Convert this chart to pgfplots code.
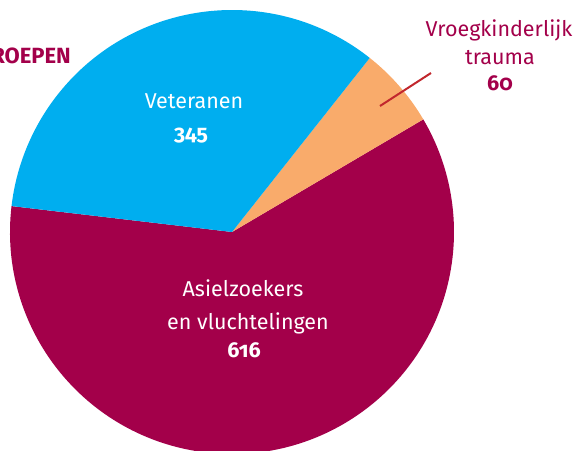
\documentclass[border=0pt]{standalone}
\usepackage{fontspec}
\setmainfont{Fira Sans}[Numbers=OldStyle]
\usepackage{pgfplots}
\usepackage{pgfplotstable}
\pgfplotsset{compat=1.18}
\definecolor{asiel}{HTML}{A3004A}
\definecolor{vet}{HTML}{00AEEF}
\definecolor{vroeg}{HTML}{F9AB6B}
\definecolor{txtred}{HTML}{A3004A}
\definecolor{linered}{HTML}{C1272D}
\pgfplotstableread{
label value color
Asiel 616 asiel
Vroeg 60 vroeg
Veteranen 345 vet
}\piedata
\begin{document}
\begin{tikzpicture}
\useasboundingbox (0,0) rectangle (577pt,450pt);
\begin{axis}[at={(0,0)}, anchor=south west, scale only axis, width=577pt, height=450pt,
  xmin=0, xmax=577, ymin=0, ymax=450, hide axis, clip=false]
\def\total{0}
\pgfplotsforeachungrouped \i in {0,1,2}{%
  \pgfplotstablegetelem{\i}{value}\of\piedata
  \pgfmathparse{\total+\pgfplotsretval}\xdef\total{\pgfmathresult}%
}
\def\ang{173.3}
\pgfplotsforeachungrouped \i in {0,1,2}{%
  \pgfplotstablegetelem{\i}{value}\of\piedata \let\v\pgfplotsretval
  \pgfplotstablegetelem{\i}{color}\of\piedata \let\c\pgfplotsretval
  \pgfmathsetmacro\endang{\ang+360*(\v/\total)}%
  \edef\temp{\noexpand\fill[\c] (axis cs:232,218) -- ++(\ang:222pt) arc[start angle=\ang, end angle=\endang, radius=222pt] -- cycle;}%
  \temp
  \global\let\ang\endang
}
\node[white, font=\fontsize{21.5}{24}\selectfont] at (axis cs:194,349) {Veteranen};
\node[white, font=\fontsize{21.5}{24}\bfseries\selectfont] at (axis cs:191,314) {345};
\node[white, font=\fontsize{21.5}{24}\selectfont] at (axis cs:243,162) {Asielzoekers};
\node[white, font=\fontsize{21.5}{24}\selectfont] at (axis cs:248,127) {en vluchtelingen};
\node[white, font=\fontsize{21.5}{24}\bfseries\selectfont] at (axis cs:244,100) {616};
\node[txtred, font=\fontsize{21.5}{24}\selectfont] at (axis cs:499,420) {Vroegkinderlijk};
\node[txtred, font=\fontsize{21.5}{24}\selectfont] at (axis cs:500,392) {trauma};
\node[txtred, font=\fontsize{21.5}{24}\bfseries\selectfont] at (axis cs:500,367) {60};
\draw[linered, line width=2pt] (axis cs:380,344) -- (axis cs:431,377);
\node[txtred, anchor=east, inner sep=0pt, font=\fontsize{22}{24}\bfseries\selectfont] at (axis cs:71,394) {GROEPEN};
\end{axis}
\end{tikzpicture}
\end{document}
